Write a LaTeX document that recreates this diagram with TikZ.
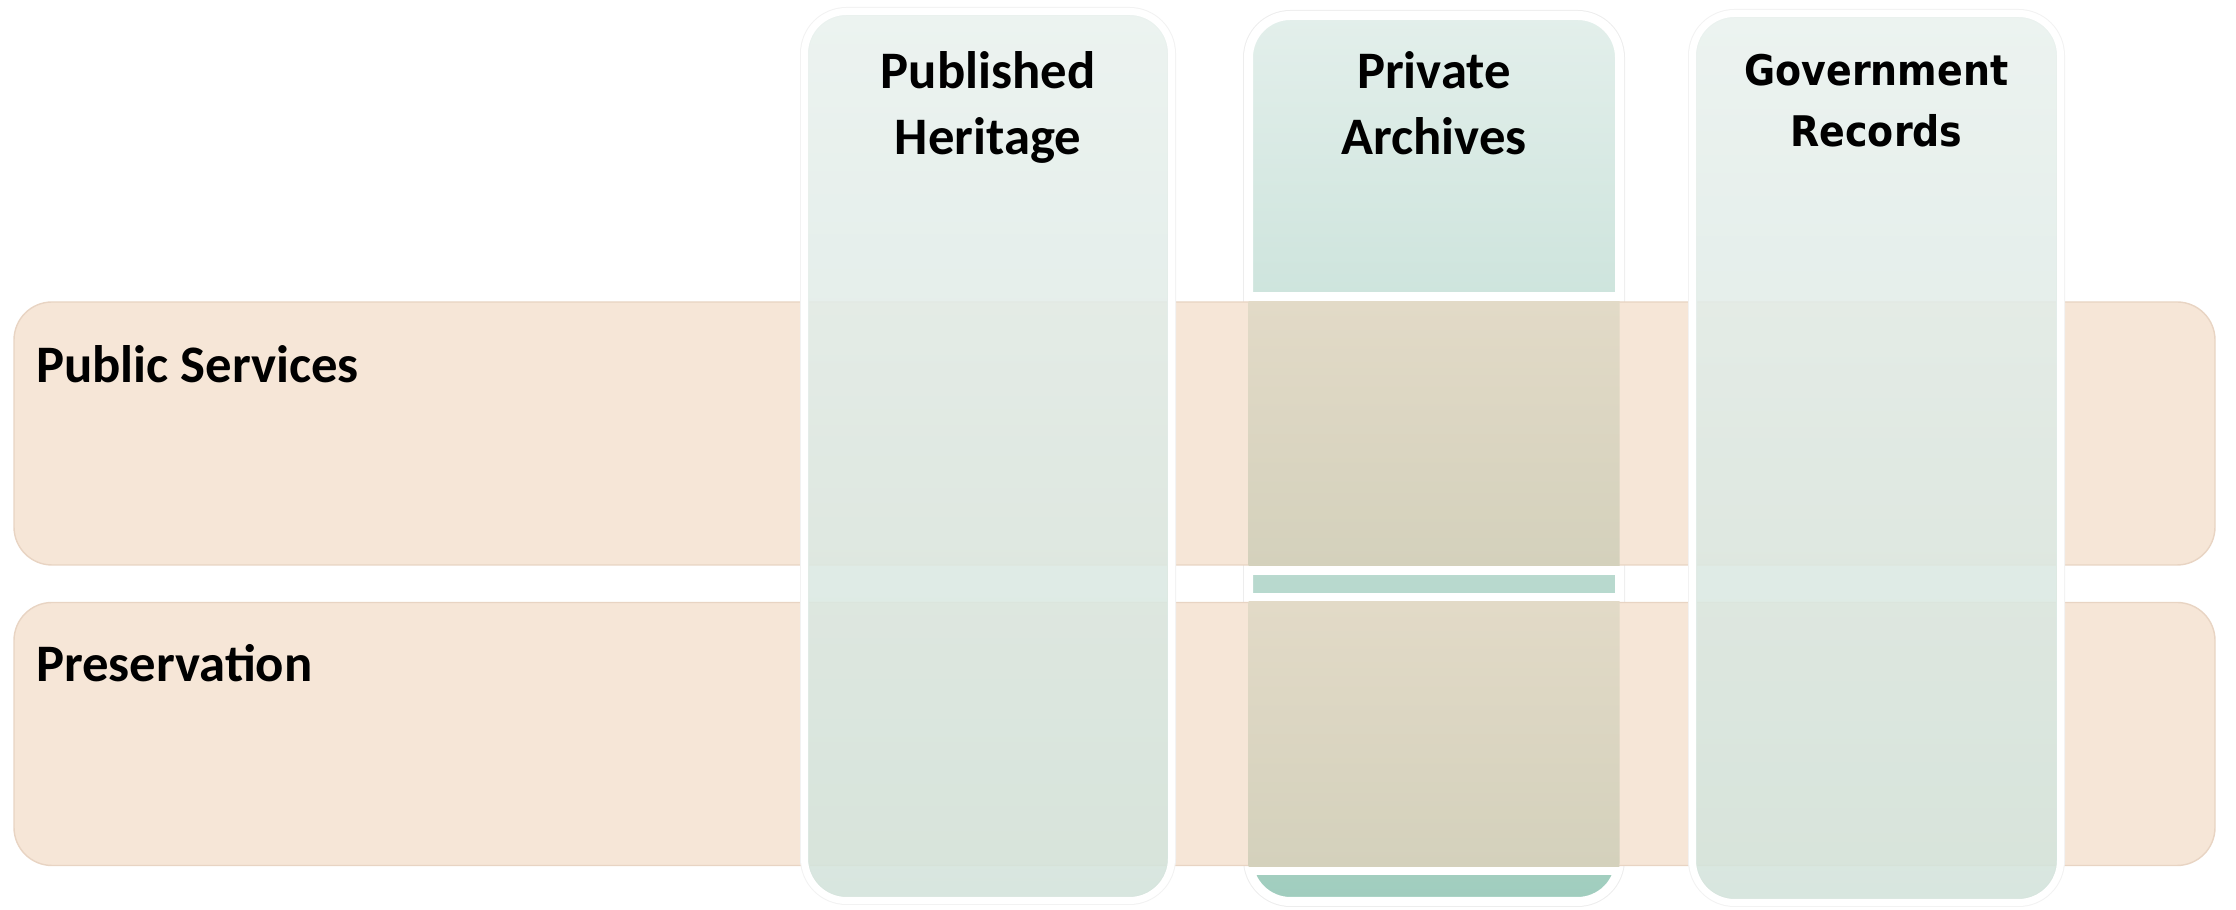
\documentclass[tikz,border=0pt]{standalone}
\usepackage{fontspec}
\setmainfont{Carlito}
\newfontfamily\govfont{DejaVu Sans Condensed}
\usetikzlibrary{positioning}
\definecolor{rowpeach}{HTML}{F6E6D7}
\definecolor{rowedge}{HTML}{E8D4C3}
\definecolor{coltop}{HTML}{E9F1EE}
\definecolor{colbot}{HTML}{D3E3DB}
\definecolor{patop}{HTML}{E3EFEB}
\definecolor{pabot}{HTML}{A0CDBE}
\definecolor{mixtop}{HTML}{E2DAC7}
\definecolor{mixbot}{HTML}{D4D1BC}

\begin{document}
\begin{tikzpicture}[
  rowbox/.style={rounded corners=0.38cm, fill=rowpeach, draw=rowedge, line width=0.4pt, minimum width=22.01cm, minimum height=2.63cm, inner sep=0},
  colbox/.style={rounded corners=0.42cm, top color=coltop, bottom color=colbot, fill opacity=0.88, draw=white, line width=0.07cm, minimum width=3.67cm, minimum height=8.89cm, inner sep=0, preaction={draw=black!5, line width=0.09cm}},
  heading/.style={font=\bfseries\fontsize{15}{18.8}\selectfont, align=center, inner sep=0, execute at begin node=\strut},
  govhead/.style={heading, font=\govfont\bfseries\fontsize{12}{17.3}\selectfont},
  rowlabel/.style={font=\bfseries\fontsize{15}{18}\selectfont, anchor=base west, inner sep=0}
]
\useasboundingbox (0,0) rectangle (22.36,9.10);
% column behind the rows
\node[colbox, top color=patop, bottom color=pabot, fill opacity=1, line width=0.09cm, minimum width=3.71cm, minimum height=8.86cm, preaction={draw=black!7, line width=0.11cm}] (pa) at (14.34,4.515) {};
% rows
\node[rowbox] (ps) at (11.145,4.765) {};
\node[rowbox] (pr) at (11.145,1.76) {};
% where the rows cross the private archives
\begin{scope}
  \clip[rounded corners=0.38cm] ([shift={(0.045,0.045)}]pa.south west) rectangle ([shift={(-0.045,-0.045)}]pa.north east);
  \foreach \r in {ps,pr} {
    \draw[white, line width=0.09cm] ([yshift=-0.045cm]\r.south west) rectangle ([yshift=0.045cm]\r.north east);
    \shade[top color=mixtop, bottom color=mixbot] (\r.south west) rectangle (\r.north east);
  }
\end{scope}
% columns in front
\node[colbox] (pub) at (9.88,4.54) {};
\node[colbox, minimum width=3.68cm] (gov) at (18.765,4.52) {};
% texts
\node[heading, below=0.43cm of pub.north] (pubtxt) {Published\\Heritage};
\node[heading, below=0.40cm of pa.north] (patxt) {Private\\Archives};
\node[govhead, below=0.44cm of gov.north] (govtxt) {Government\\Records};
\node[rowlabel] (pstxt) at ([xshift=0.22cm, yshift=-0.81cm]ps.north west) {Public Services};
\node[rowlabel] (prtxt) at ([xshift=0.22cm, yshift=-0.80cm]pr.north west) {Preservation};
\end{tikzpicture}
\end{document}
